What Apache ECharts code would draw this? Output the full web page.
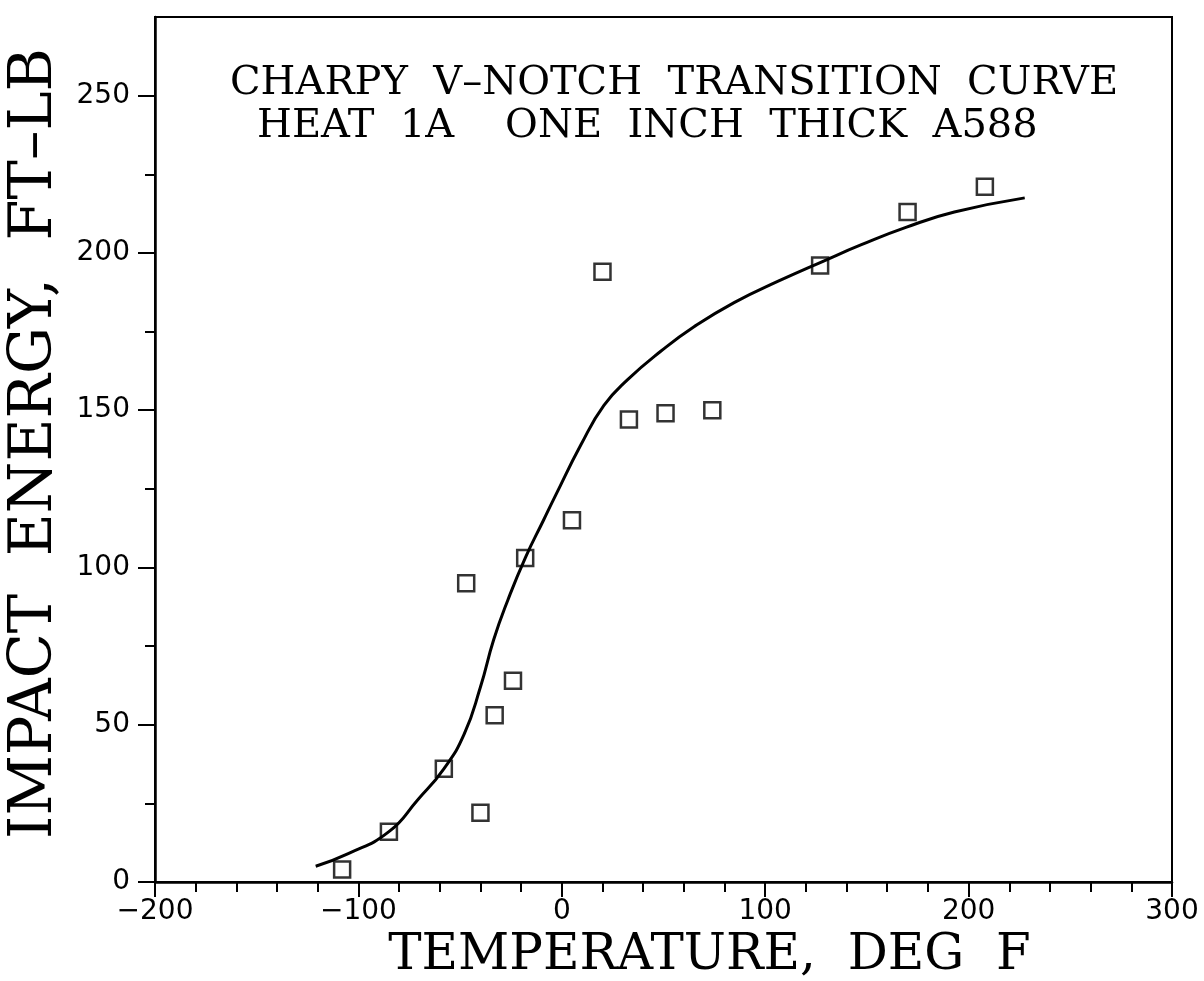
<!DOCTYPE html>
<html>
<head>
<meta charset="utf-8">
<title>Charpy V-Notch Transition Curve</title>
<script src="https://cdn.jsdelivr.net/npm/echarts@6/dist/echarts.min.js"></script>
<style>
html, body {
  margin: 0;
  padding: 0;
  background: #fff;
}
#chart {
  width: 1204px;
  height: 981px;
}
</style>
</head>
<body>
<div id="chart"></div>
<script>
// measured points (squares)
var tempData = [-108, -85, -58, -40, -33, -24, -47, -18, 5, 20, 33, 51, 74, 127, 170, 208];
var energyData = [4, 16, 36, 22, 53, 64, 95, 103, 115, 194, 147, 149, 150, 196, 213, 221];

// fitted transition curve
var curveTemp = [-121, -105, -85, -71, -58, -48, -40, -33.5, -26.6, -18, -9, -3, 9.4, 20.7, 32.5, 48.8, 65, 84.7, 106.4, 129, 147.3, 169.5, 193, 227.6];
var curveEnergy = [5, 9, 16, 26, 36, 47, 62, 77, 89.5, 103, 115, 123, 139, 151.5, 159.8, 168.8, 176.5, 184.2, 191, 197.5, 202.6, 208.2, 213, 217.5];

// tick labels
var yMajorTicks = [0, 50, 100, 150, 200, 250];
var yMinorTicks = [25, 75, 125, 175, 225];

var titleLines = ["CHARPY  V–NOTCH  TRANSITION  CURVE", "HEAT  1A    ONE  INCH  THICK  A588"];

var points = tempData.map(function (t, i) { return [t, energyData[i]]; });
var curve = curveTemp.map(function (t, i) { return [t, curveEnergy[i]]; });

var serif = "DejaVu Serif";
var sans = "DejaVu Sans";

var myChart = echarts.init(document.getElementById("chart"));

myChart.setOption({
  backgroundColor: "#fff",
  animation: false,
  grid: {
    left: 155,
    right: 32,
    top: 17,
    bottom: 99,
    outerBoundsMode: "none",
    containLabel: false,
    show: true,
    borderColor: "#000",
    borderWidth: 2
  },
  graphic: [
    {
      type: "text",
      left: 230,
      top: 64,
      style: { text: titleLines[0], font: "40px '" + serif + "'", fill: "#000" }
    },
    {
      type: "text",
      left: 257,
      top: 107,
      style: { text: titleLines[1], font: "40px '" + serif + "'", fill: "#000" }
    }
  ],
  xAxis: {
    type: "value",
    min: -200,
    max: 300,
    interval: 100,
    name: "TEMPERATURE,  DEG  F",
    nameLocation: "middle",
    nameGap: 45,
    nameTextStyle: {
      fontFamily: serif,
      fontSize: 50,
      color: "#000",
      padding: [0, 0, 0, 92]
    },
    axisLine: { onZero: false, lineStyle: { color: "#000", width: 2.5 } },
    axisTick: { inside: false, length: 15, lineStyle: { color: "#000", width: 2 } },
    minorTick: { show: true, splitNumber: 5, length: 10, lineStyle: { color: "#000", width: 2 } },
    axisLabel: {
      fontFamily: sans,
      fontSize: 28,
      color: "#000",
      margin: 16,
      formatter: function (v) { return v < 0 ? "−" + (-v) : String(v); }
    },
    splitLine: { show: false }
  },
  yAxis: [
    {
      type: "value",
      min: 0,
      max: 275,
      name: "IMPACT  ENERGY,  FT–LB",
      nameLocation: "middle",
      nameGap: 88,
      nameTextStyle: {
        fontFamily: serif,
        fontSize: 59,
        color: "#000",
        padding: [0, 0, 0, 12]
      },
      axisLine: { onZero: false, lineStyle: { color: "#000", width: 2.5 } },
      axisTick: { inside: false, length: 17, customValues: yMajorTicks, lineStyle: { color: "#000", width: 2 } },
      axisLabel: {
        fontFamily: sans,
        fontSize: 28,
        color: "#000",
        margin: 25,
        customValues: yMajorTicks
      },
      splitLine: { show: false }
    },
    {
      // second left axis only for the short minor ticks
      type: "value",
      position: "left",
      min: 0,
      max: 275,
      axisLine: { show: false, onZero: false },
      axisTick: { inside: false, length: 10, customValues: yMinorTicks, lineStyle: { color: "#000", width: 2 } },
      axisLabel: { show: false },
      splitLine: { show: false }
    }
  ],
  series: [
    {
      name: "curve",
      type: "line",
      data: curve,
      smooth: 0.5,
      showSymbol: false,
      lineStyle: { color: "#000", width: 3 },
      z: 2
    },
    {
      name: "tests",
      type: "scatter",
      data: points,
      symbol: "rect",
      symbolSize: 16,
      itemStyle: { color: "rgba(0,0,0,0)", borderColor: "#000", borderWidth: 2.5 },
      z: 3
    }
  ]
});
</script>
</body>
</html>
